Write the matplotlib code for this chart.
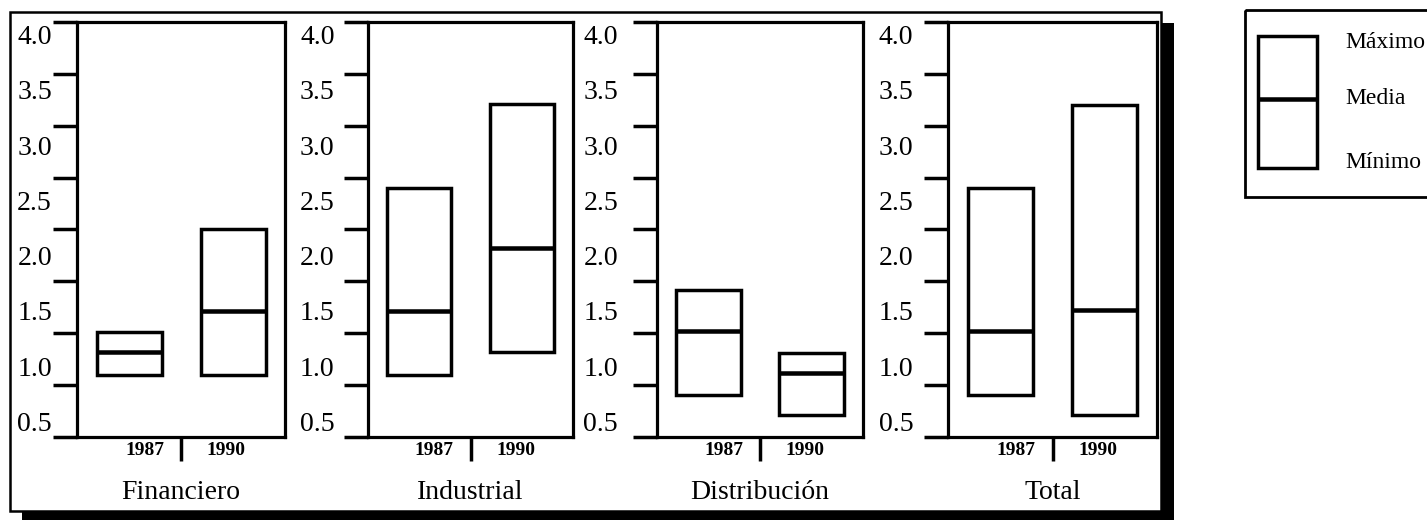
import matplotlib
matplotlib.use("Agg")
import matplotlib.pyplot as plt
import numpy as np
from matplotlib.patches import Rectangle
from matplotlib.transforms import blended_transform_factory

plt.rcParams['font.family'] = ['Liberation Serif', 'DejaVu Serif']

# ---------------- data ----------------
sectores = ["Financiero", "Industrial", "Distribución", "Total"]
anios = ["1987", "1990"]
maximo = [[1.31, 2.24], [2.61, 3.37], [1.69, 1.12], [2.61, 3.36]]
media = [[1.13, 1.50], [1.50, 2.07], [1.32, 0.94], [1.32, 1.51]]
minimo = [[0.92, 0.92], [0.92, 1.13], [0.74, 0.56], [0.74, 0.56]]
ytick_values = [0.5, 1.0, 1.5, 2.0, 2.5, 3.0, 3.5, 4.0]
ytick_labels = ["0.5", "1.0", "1.5", "2.0", "2.5", "3.0", "3.5", "4.0"]
leyenda = ["Máximo", "Media", "Mínimo"]

# ---------------- layout ----------------
W, H = 1427, 520
fig = plt.figure(figsize=(W / 100, H / 100), dpi=100)

def fx(px):
    return px / W

def fy(py):
    return 1 - py / H

panel_px = [(77, 285), (368, 573), (657, 863), (948, 1157)]
label_pad = [19, 25, 29, 26]
top_px, bot_px = 22, 437
ylim = (0.36, 4.113)
xpos = np.arange(len(anios))
box_w = 0.625
LW = 2.5

# background axes for outer frame & legend
bg = fig.add_axes([0, 0, 1, 1], zorder=-1)
bg.set_xlim(0, W)
bg.set_ylim(H, 0)
bg.axis('off')
bg.add_patch(Rectangle((10, 12), 1151, 499, fill=False, edgecolor='black', linewidth=1.8))
bg.add_patch(Rectangle((1161, 23), 13, 497, facecolor='black', edgecolor='none'))
bg.add_patch(Rectangle((22, 511), 1152, 9, facecolor='black', edgecolor='none'))

# legend
bg.add_patch(Rectangle((1245, 10), 200, 187, fill=False, edgecolor='black', linewidth=2.0, clip_on=False))
bg.add_patch(Rectangle((1258, 36), 59, 132, fill=False, edgecolor='black', linewidth=LW))
bg.plot([1259, 1316], [99, 99], color='black', linewidth=LW * 1.3, solid_capstyle='butt')
for txt, yy in zip(leyenda, [42, 98, 163]):
    bg.text(1345, yy, txt, fontsize=17, ha='left', va='center')

for i, sec in enumerate(sectores):
    x0, x1 = panel_px[i]
    ax = fig.add_axes([fx(x0), fy(bot_px), (x1 - x0) / W, (bot_px - top_px) / H])
    ax.set_xlim(-0.5, 1.5)
    ax.set_ylim(*ylim)
    lo = np.array(minimo[i])
    hi = np.array(maximo[i])
    me = np.array(media[i])
    ax.bar(xpos, hi - lo, bottom=lo, width=box_w, fill=False,
           edgecolor='black', linewidth=LW)
    ax.hlines(me, xpos - box_w / 2, xpos + box_w / 2, colors='black',
              linewidth=LW * 1.3)
    for s in ax.spines.values():
        s.set_linewidth(2.3)
    ax.set_yticks(ytick_values)
    ax.set_yticklabels(ytick_labels, fontsize=20)
    ax.set_yticks(np.linspace(ylim[0], ylim[1], 9), minor=True)
    ax.tick_params(axis='y', which='major', length=0, pad=label_pad[i] - 1)
    ax.tick_params(axis='y', which='minor', length=17, width=2.5, direction='out')
    ax.set_xticks([0.5])
    ax.set_xticklabels([''])
    ax.tick_params(axis='x', which='major', length=17, width=2.5, direction='out')

    trans = blended_transform_factory(ax.transData, ax.transAxes)
    ax.annotate(anios[0], xy=(0.5, 0), xycoords=trans, xytext=(-12, -9.5),
                textcoords='offset points', ha='right', va='center',
                fontsize=14, fontweight='bold')
    ax.annotate(anios[1], xy=(0.5, 0), xycoords=trans, xytext=(18.5, -9.5),
                textcoords='offset points', ha='left', va='center',
                fontsize=14, fontweight='bold')
    ax.annotate(sec, xy=(0.5, 0), xycoords='axes fraction', xytext=(0, -40),
                textcoords='offset points', ha='center', va='center',
                fontsize=20)

fig.savefig("out.png", dpi=100)
